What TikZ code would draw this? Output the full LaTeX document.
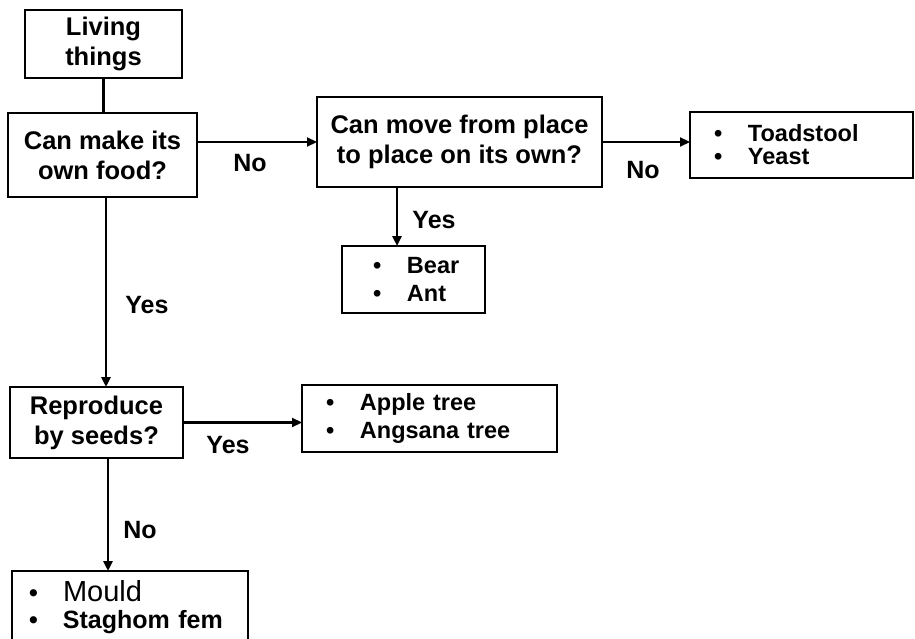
\documentclass[tikz,border=0pt]{standalone}
\usepackage{fontspec}
\setmainfont{Liberation Sans}
\usetikzlibrary{arrows.meta}
\newcommand{\lbul}{\makebox[34pt][l]{\textbullet}}
\begin{document}
\begin{tikzpicture}[x=1pt,y=-1pt,
  frame/.style={draw,line width=2.8pt,inner ysep=0pt,outer sep=0pt},
  qtext/.style={font=\bfseries\fontsize{25.5}{30}\selectfont,align=center},
  ltext/.style={font=\bfseries\fontsize{23.5}{27.5}\selectfont,align=left},
  conn/.style={line width=2.8pt},
  arr/.style={line width=2.2pt,-{Triangle[length=10pt,width=9pt]}},
  varr/.style={line width=2.8pt,-{Triangle[length=10pt,width=9pt]}},
  lab/.style={font=\bfseries\fontsize{25}{29}\selectfont,inner sep=0pt}]
\clip (0,0) rectangle (915,639);
\fill[white] (0,0) rectangle (915,639);

% decision boxes
\node[frame,qtext,minimum width=157pt,minimum height=68pt] (living) at (103.5,44) {Living\\things};
\node[frame,qtext,minimum width=189pt,minimum height=84pt] (canmake) at (102.5,155) {Can make its\\own food?};
\node[frame,qtext,minimum width=285pt,minimum height=90pt] (move) at (459.5,142) {Can move from place\\to place on its own?};
\node[frame,qtext,minimum width=173pt,minimum height=71pt] (repro) at (96.5,422.5) {Reproduce\\by seeds?};

% list boxes
\node[frame,ltext,font=\bfseries\fontsize{23.5}{23}\selectfont,inner xsep=24pt,text width=175pt,minimum height=66pt] (toad) at (801.5,145) {\lbul Toadstool\\\lbul Yeast};
\node[frame,ltext,inner xsep=31pt,text width=81pt,minimum height=67pt] (bear) at (413.5,279.5) {\lbul Bear\\\lbul Ant};
\node[frame,ltext,inner xsep=24pt,text width=207pt,minimum height=67pt] (apple) at (429.5,418.5) {\lbul Apple tree\\\lbul Angsana tree};
\node[frame,ltext,font=\bfseries\fontsize{25}{27}\selectfont,anchor=north west,inner xsep=17pt,inner ysep=9pt,text width=202pt] (mould) at (12,571) {\lbul{\mdseries\fontsize{29}{27}\selectfont Mould}\\\lbul Staghom fem\\[14pt]};

% connectors
\draw[conn] (living.south) -- (canmake.north -| living.south);
\draw[arr] (canmake.east |- move.west) -- (move.west);
\draw[varr] (move.south -| 397,0) -- (bear.north -| 397,0);
\draw[arr] (move.east) -- (toad.west |- move.east);
\draw[varr] (canmake.south -| 106,0) -- (repro.north -| 106,0);
\draw[arr] (repro.east) -- (apple.west |- repro.east);
\draw[varr] (repro.south -| 108,0) -- (mould.north -| 108,0);

% labels
\node[lab] (no1) at (250,163) {No};
\node[lab] (yes1) at (434,220) {Yes};
\node[lab] (no2) at (643,170) {No};
\node[lab] (yes2) at (147,305) {Yes};
\node[lab] (yes3) at (228,445) {Yes};
\node[lab] (no3) at (140,530) {No};
\end{tikzpicture}
\end{document}
